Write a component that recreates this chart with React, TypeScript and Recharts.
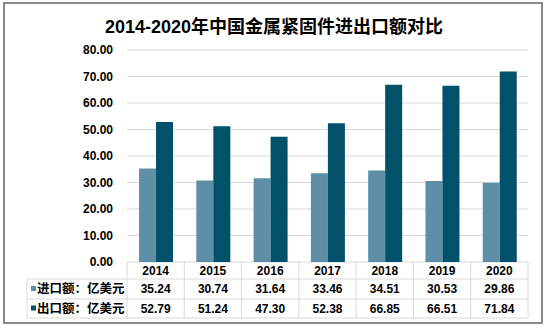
import { BarChart, Bar, XAxis, YAxis, CartesianGrid } from 'recharts';

const years = ['2014', '2015', '2016', '2017', '2018', '2019', '2020'];
const importValues = [35.24, 30.74, 31.64, 33.46, 34.51, 30.53, 29.86];
const exportValues = [52.79, 51.24, 47.3, 52.38, 66.85, 66.51, 71.84];
const yTicks = [0, 10, 20, 30, 40, 50, 60, 70, 80];

const seriesList = [
  { key: 'import', name: '进口额：亿美元', color: '#5e8fa7', values: importValues },
  { key: 'export', name: '出口额：亿美元', color: '#01516b', values: exportValues },
];

const data = years.map((year, i) => ({
  year,
  import: importValues[i],
  export: exportValues[i],
}));

const FONT = "'Liberation Sans', Arial, 'Noto Sans CJK SC', sans-serif";
const LINE = '#d9d9d9';
const ROWS = [0, 17, 37, 56]; // table row edges below the axis

function TableTick(props: any) {
  const { x, y, width, index, payload } = props;
  const colW = width / years.length;
  const left = x - colW / 2;
  const right = x + colW / 2;
  const headerLeft = 27;
  const isFirst = index === 0;

  return (
    <g fontFamily={FONT} fontWeight="bold" fontSize={12} fill="#000">
      {/* column borders */}
      <line x1={right} x2={right} y1={y + ROWS[0]} y2={y + ROWS[3]} stroke={LINE} />
      {isFirst && <line x1={left} x2={left} y1={y + ROWS[0]} y2={y + ROWS[3]} stroke={LINE} />}
      {isFirst && <line x1={headerLeft} x2={headerLeft} y1={y + ROWS[1]} y2={y + ROWS[3]} stroke={LINE} />}
      {/* row borders */}
      {ROWS.slice(1).map((r) => (
        <line key={r} x1={isFirst ? headerLeft : left} x2={right} y1={y + r} y2={y + r} stroke={LINE} />
      ))}
      <text x={x} y={y + (ROWS[0] + ROWS[1]) / 2} textAnchor="middle" dominantBaseline="central">
        {payload.value}
      </text>
      {seriesList.map((s, r) => (
        <text
          key={s.key}
          x={x}
          y={y + (ROWS[r + 1] + ROWS[r + 2]) / 2}
          textAnchor="middle"
          dominantBaseline="central"
        >
          {s.values[index].toFixed(2)}
        </text>
      ))}
      {isFirst &&
        seriesList.map((s, r) => {
          const cy = y + (ROWS[r + 1] + ROWS[r + 2]) / 2;
          return (
            <g key={s.key}>
              <rect x={31} y={cy - 3} width={5} height={5} fill={s.color} />
              <text x={37} y={cy} dominantBaseline="central" fontSize={12.5}>
                {s.name}
              </text>
            </g>
          );
        })}
    </g>
  );
}

export default function App() {
  return (
    <div
      style={{
        position: 'absolute',
        left: 0,
        top: 0,
        width: 548,
        height: 328,
        background: '#fff',
        fontFamily: FONT,
      }}
    >
      <BarChart
        width={548}
        height={328}
        data={data}
        margin={{ top: 50, right: 20, bottom: 10, left: 0 }}
        barCategoryGap="21%"
        barGap={0}
      >
        <CartesianGrid vertical={false} stroke={LINE} />
        <YAxis
          width={127}
          domain={[0, 80]}
          ticks={yTicks}
          axisLine={false}
          tickLine={false}
          tickMargin={8}
          tickFormatter={(v: number) => v.toFixed(2)}
          tick={{ fontSize: 12, fontWeight: 'bold', fill: '#000', fontFamily: FONT }}
        />
        <XAxis
          dataKey="year"
          height={56}
          axisLine={false}
          tickLine={false}
          tickSize={0}
          tickMargin={0}
          interval={0}
          tick={<TableTick />}
        />
        {seriesList.map((s) => (
          <Bar key={s.key} dataKey={s.key} name={s.name} fill={s.color} isAnimationActive={false} />
        ))}
      </BarChart>
      <div
        style={{
          position: 'absolute',
          left: 0,
          top: 12,
          width: 548,
          textAlign: 'center',
          fontSize: 18,
          fontWeight: 'bold',
          color: '#000',
        }}
      >
        2014-2020年中国金属紧固件进出口额对比
      </div>
      <div
        style={{
          position: 'absolute',
          left: 3,
          top: 2,
          width: 540,
          height: 322,
          boxSizing: 'border-box',
          border: '2px solid #8a8a8a',
          pointerEvents: 'none',
        }}
      />
    </div>
  );
}
